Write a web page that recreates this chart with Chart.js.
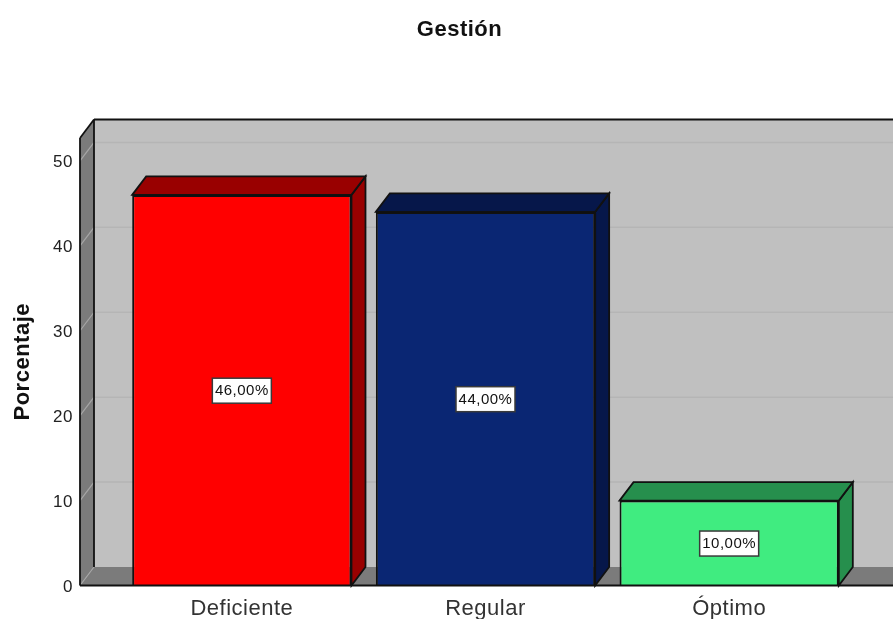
<!DOCTYPE html>
<html lang="es">
<head>
<meta charset="utf-8">
<title>Gestión</title>
<style>
  html, body { margin: 0; padding: 0; background: #fff; overflow: hidden; }
  #frame { position: relative; width: 919px; height: 619px; }
  canvas { display: block; }
</style>
<script src="https://cdn.jsdelivr.net/npm/chart.js@4/dist/chart.umd.min.js"></script>
</head>
<body>
<div id="frame"><canvas id="chart" width="919" height="619"></canvas></div>
<script>
const categories = ['Deficiente', 'Regular', 'Óptimo'];
const percentages = [46, 44, 10];
const yTicks = [0, 10, 20, 30, 40, 50];
const yMax = 52.7;
const frontColors = ['#ff0000', '#0a2673', '#40ec80'];
const sideColors = ['#990000', '#06174a', '#268f4d'];

// Depth of the pseudo-3D projection, in pixels.
const DX = 14;
const DY = -18.5;
const WALL_LEFT = 80;
const FONT_FAMILY = '"Liberation Sans", Arial, sans-serif';

function polygon(ctx, pts, fill, stroke, lineWidth) {
  ctx.beginPath();
  pts.forEach(([x, y], i) => (i ? ctx.lineTo(x, y) : ctx.moveTo(x, y)));
  ctx.closePath();
  ctx.fillStyle = fill;
  ctx.fill();
  if (stroke) {
    ctx.strokeStyle = stroke;
    ctx.lineWidth = lineWidth || 1.8;
    ctx.stroke();
  }
}

function segment(ctx, x1, y1, x2, y2, color, width) {
  ctx.beginPath();
  ctx.moveTo(x1, y1);
  ctx.lineTo(x2, y2);
  ctx.strokeStyle = color;
  ctx.lineWidth = width;
  ctx.stroke();
}

// Centres the title on the whole canvas and opens up the tracking of all text.
const textPlugin = {
  id: 'textSetup',
  afterLayout(chart) {
    chart.titleBlock.left = 0;
    chart.titleBlock.right = chart.width;
  },
  beforeDraw(chart) {
    chart.ctx.letterSpacing = '0.5px';
  }
};

// Back wall, side wall, floor and gridlines behind the bars.
const wallsPlugin = {
  id: 'walls',
  beforeDatasetsDraw(chart) {
    const { ctx, chartArea, scales } = chart;
    const top = chartArea.top, bottom = chartArea.bottom, right = chart.width;
    const L = WALL_LEFT;
    ctx.save();
    polygon(ctx, [[L + DX, top + DY], [right, top + DY], [right, bottom + DY], [L + DX, bottom + DY]], '#c0c0c0');
    polygon(ctx, [[L, top], [L + DX, top + DY], [L + DX, bottom + DY], [L, bottom]], '#7b7b7b');
    polygon(ctx, [[L, bottom], [L + DX, bottom + DY], [right, bottom + DY], [right, bottom]], '#7b7b7b');
    yTicks.forEach(v => {
      const y = scales.y.getPixelForValue(v);
      segment(ctx, L, y, L + DX, y + DY, '#a6a6a6', 1.2);
      if (v > 0) segment(ctx, L + DX, y + DY, right, y + DY, '#b5b5b5', 1.5);
    });
    segment(ctx, L, top, L + DX, top + DY, '#111', 1.8);
    segment(ctx, L + DX, top + DY, right, top + DY, '#111', 1.8);
    segment(ctx, L, top, L, bottom, '#111', 1.8);
    segment(ctx, L + DX, top + DY, L + DX, bottom + DY, '#111', 1.8);
    ctx.restore();
  }
};

// Side and top faces of each bar, the baseline and the value labels.
const barFacesPlugin = {
  id: 'barFaces',
  afterDatasetsDraw(chart) {
    const { ctx, chartArea } = chart;
    const bars = chart.getDatasetMeta(0).data;
    ctx.save();
    bars.forEach((bar, i) => {
      const l = bar.x - bar.width / 2, r = bar.x + bar.width / 2;
      const t = bar.y, b = bar.base;
      polygon(ctx, [[r, t], [r + DX, t + DY], [r + DX, b + DY], [r, b]], sideColors[i], '#111');
      polygon(ctx, [[l, t], [l + DX, t + DY], [r + DX, t + DY], [r, t]], sideColors[i], '#111');
    });
    segment(ctx, WALL_LEFT, chartArea.bottom, chart.width, chartArea.bottom, '#111', 1.8);

    ctx.font = '15px ' + FONT_FAMILY;
    ctx.textAlign = 'center';
    ctx.textBaseline = 'middle';
    bars.forEach((bar, i) => {
      const text = percentages[i].toFixed(2).replace('.', ',') + '%';
      const cy = (bar.y + bar.base) / 2;
      ctx.fillStyle = '#ffffff';
      ctx.strokeStyle = '#3a3a3a';
      ctx.lineWidth = 1.5;
      ctx.fillRect(bar.x - 29.5, cy - 12, 59, 25);
      ctx.strokeRect(bar.x - 29.5, cy - 12, 59, 25);
      ctx.fillStyle = '#111';
      ctx.fillText(text, bar.x, cy + 1);
    });
    ctx.restore();
  }
};

new Chart(document.getElementById('chart'), {
  type: 'bar',
  data: {
    labels: categories,
    datasets: [{
      data: percentages,
      backgroundColor: frontColors,
      borderColor: '#111',
      borderWidth: 2,
      categoryPercentage: 1,
      barPercentage: 0.9
    }]
  },
  options: {
    responsive: false,
    animation: false,
    layout: { padding: { left: 0, right: 68, top: 0, bottom: 0 } },
    plugins: {
      legend: { display: false },
      tooltip: { enabled: false },
      title: {
        display: true,
        text: 'Gestión',
        color: '#111',
        font: { family: FONT_FAMILY, size: 22, weight: 'bold', lineHeight: 1.2 },
        padding: { top: 16.8, bottom: 94.8 }
      }
    },
    scales: {
      x: {
        grid: { display: false, drawTicks: false },
        border: { display: false },
        afterFit(scale) { scale.height = 33.5; },
        ticks: {
          color: '#333',
          padding: 10,
          maxRotation: 0,
          font: { family: FONT_FAMILY, size: 22 }
        }
      },
      y: {
        min: 0,
        max: yMax,
        afterBuildTicks(scale) { scale.ticks = yTicks.map(value => ({ value })); },
        afterFit(scale) {
          scale.width = 120;
          scale.paddingTop = 0;
          scale.paddingBottom = 0;
        },
        grid: { display: false, drawTicks: false },
        border: { display: false },
        title: {
          display: true,
          text: 'Porcentaje',
          color: '#111',
          padding: { top: 10, bottom: 0 },
          font: { family: FONT_FAMILY, size: 22, weight: 'bold' }
        },
        ticks: {
          color: '#222',
          padding: 47,
          labelOffset: 1.5,
          font: { family: FONT_FAMILY, size: 17 }
        }
      }
    }
  },
  plugins: [textPlugin, wallsPlugin, barFacesPlugin]
});
</script>
</body>
</html>
